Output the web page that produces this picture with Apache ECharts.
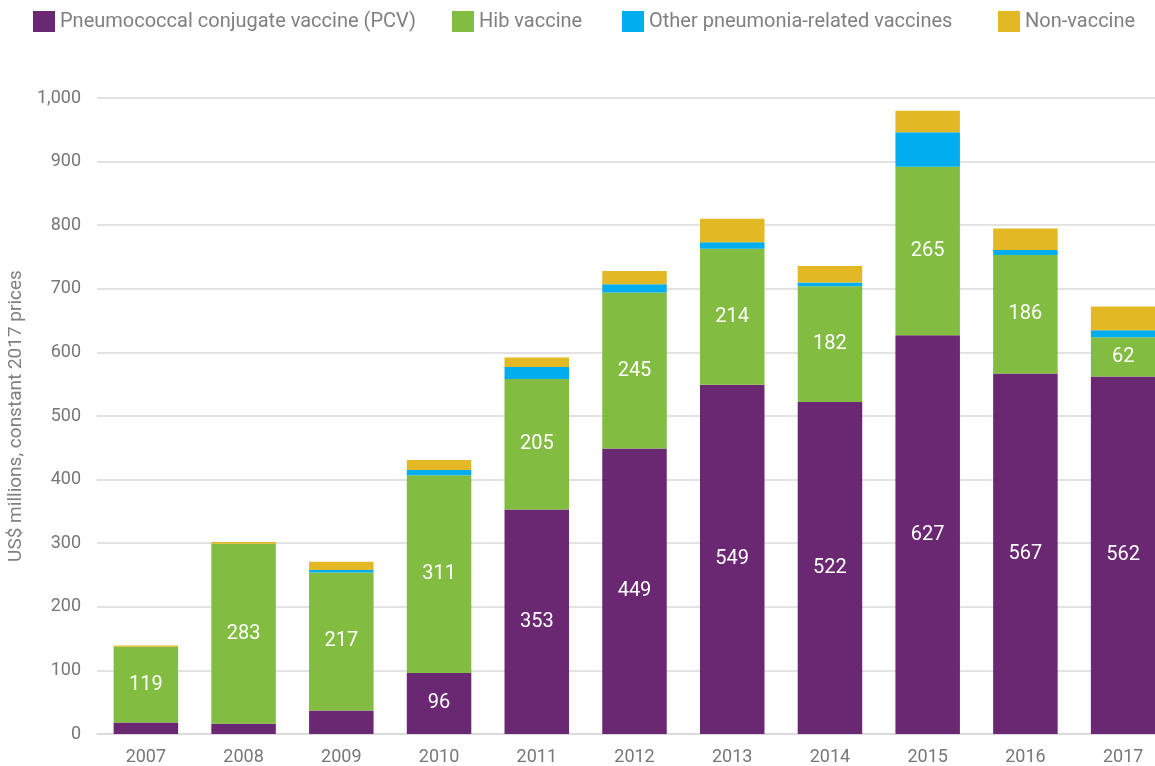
<!DOCTYPE html>
<html><head><meta charset="utf-8">
<script src="https://cdn.jsdelivr.net/npm/echarts@6/dist/echarts.min.js"></script>
<style>html,body{margin:0;padding:0;background:#fff}#c{width:1155px;height:766px}</style>
</head><body><div id="c"></div>
<script>
const years = ['2007','2008','2009','2010','2011','2012','2013','2014','2015','2016','2017'];
const pcv   = [18, 16, 37, 96, 353, 449, 549, 522, 627, 567, 562];
const hib   = [119, 283, 217, 311, 205, 245, 214, 182, 265, 186, 62];
const other = [0, 0, 4, 8, 19, 13, 10, 6, 54, 8, 11];
const nonVaccine = [2, 3, 13, 16, 15, 21, 37, 26, 34, 34, 37];
const yTicks = [0,100,200,300,400,500,600,700,800,900,1000];
const seriesNames = ['Pneumococcal conjugate vaccine (PCV)','Hib vaccine','Other pneumonia-related vaccines','Non-vaccine'];
const colors = ['#6a2873','#82bc41','#00aeef','#e2b824'];
const FONT = "'Roboto', sans-serif";

const chart = echarts.init(document.getElementById('c'));
const legendPos = [33, 452, 622, 998];
const lab = {show:true, color:'#fff', fontFamily:FONT, fontSize:20, position:'inside',
  formatter: p => p.value >= 50 ? String(p.value) : ''};
const dataSets = [pcv, hib, other, nonVaccine];
chart.setOption({
  animation:false,
  color: colors,
  legend: seriesNames.map((n,i)=>({
    data:[n], left:legendPos[i], top:11, itemWidth:22, itemHeight:21, itemGap:0,
    icon:'rect', textStyle:{color:'#808080', fontFamily:FONT, fontSize:20}, padding:0
  })),
  grid:{left:97, top:98, width:1075, bottom:32, containLabel:false, outerBoundsMode:'none'},
  xAxis:{type:'category', data:years,
    axisLine:{show:true, lineStyle:{color:'#d9d9d9', width:1.5}}, axisTick:{show:false},
    axisLabel:{color:'#777', fontFamily:FONT, fontSize:18, margin:14}},
  yAxis:{type:'value', min:yTicks[0], max:yTicks[yTicks.length-1], interval:100,
    name:'US$ millions, constant 2017 prices', nameLocation:'middle', nameGap:66, nameRotate:90,
    nameTextStyle:{color:'#808080', fontFamily:FONT, fontSize:19},
    axisLine:{show:false}, axisTick:{show:false},
    splitLine:{lineStyle:{color:'#d9d9d9', width:1.5}},
    axisLabel:{color:'#777', fontFamily:FONT, fontSize:18, margin:16,
      formatter: v => v.toLocaleString('en-US')}},
  series: seriesNames.map((n,i)=>({
    name:n, type:'bar', stack:'total', barWidth:'66%', data:dataSets[i],
    itemStyle:{color:colors[i]},
    label: i<2 ? lab : {show:false}
  }))
});
</script></body></html>
